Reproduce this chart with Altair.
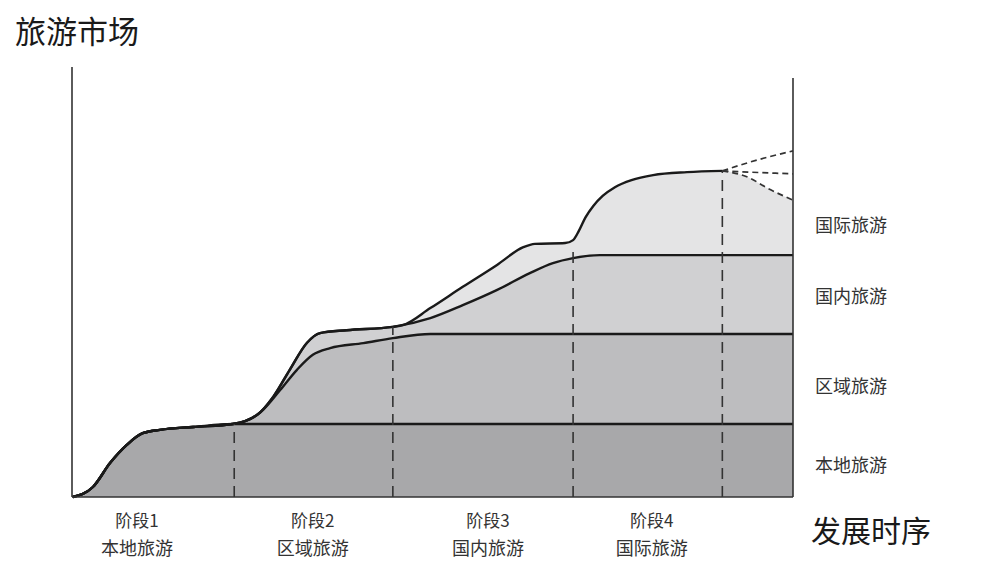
import altair as alt
import pandas as pd

FONT = "Noto Sans CJK SC"

# ---- data (x: development time 0-100, y: tourism market 0-100) ----
local_x = [0.1, 2.9, 5.3, 7.6, 9.8, 12.2, 16.8, 22.3, 100]
local_y = [0.0, 2.4, 8.2, 12.5, 15.3, 16.1, 16.8, 17.5, 17.5]

regional_x = [24.0, 26.5, 28.9, 31.2, 33.4, 35.8, 40.4, 44.5, 49.7, 100]
regional_y = [18.2, 20.9, 25.7, 30.5, 34.1, 35.7, 36.9, 38.1, 39.1, 39.1]

domestic_x = [25.7, 27.9, 30.2, 32.6, 34.4, 38.1, 44.5, 49.7, 54.2, 58.9, 63.5, 66.7, 69.5, 73.2, 100]
domestic_y = [19.7, 24.0, 30.5, 37.0, 39.3, 40.0, 40.8, 42.9, 46.0, 49.6, 53.7, 56.1, 57.3, 58.0, 58.0]

intl_x = [45.9, 49.7, 54.2, 58.9, 62.6, 64.2, 68.4, 69.5, 70.3, 71.2, 72.3, 73.6, 75.3, 77.6, 80.6, 85.3, 90.2]
intl_y = [41.2, 45.3, 50.4, 55.6, 59.9, 60.7, 60.9, 61.6, 63.8, 67.0, 69.8, 72.2, 74.3, 76.0, 77.2, 77.9, 78.2]

fan_top_x = [90.2, 94.0, 100]
fan_top_y = [78.2, 80.3, 83.0]
fan_mid_x = [90.2, 94.0, 100]
fan_mid_y = [78.2, 77.9, 77.5]
fan_low_x = [90.2, 94.0, 96.2, 100]
fan_low_y = [78.2, 76.5, 74.3, 71.2]

stage_x = [22.5, 44.5, 69.5, 90.2]
stage_top = [17.5, 40.8, 59.0, 78.2]

stage_names = ["阶段1", "阶段2", "阶段3", "阶段4"]
stage_markets = ["本地旅游", "区域旅游", "国内旅游", "国际旅游"]
stage_label_x = [9.0, 33.4, 57.7, 80.4]

band_names = ["本地旅游", "区域旅游", "国内旅游", "国际旅游"]
band_label_y = [7.2, 26.1, 47.7, 64.7]

y_title = "旅游市场"
x_title = "发展时序"

# ---- build full paths ----
def upto(xs, ys, xmax):
    return [(a, b) for a, b in zip(xs, ys) if a <= xmax]

p_local = list(zip(local_x, local_y))
prefix1 = upto(local_x, local_y, 22.3)
p_regional = prefix1 + list(zip(regional_x, regional_y))
p_domestic = prefix1 + list(zip(domestic_x, domestic_y))
p_intl = prefix1 + upto(domestic_x, domestic_y, 44.5) + list(zip(intl_x, intl_y))
p_intl_area = p_intl + list(zip(fan_low_x[1:], fan_low_y[1:]))

def df(points):
    return pd.DataFrame(points, columns=["x", "y"])

xs = alt.Scale(domain=[0, 100], nice=False, zero=False)
ys = alt.Scale(domain=[0, 100], nice=False, zero=False)
X = alt.X("x:Q", scale=xs, axis=None)
Y = alt.Y("y:Q", scale=ys, axis=None)

def area(points, color):
    return alt.Chart(df(points)).mark_area(color=color, opacity=1, interpolate="monotone").encode(x=X, y=Y)

def line(points):
    return alt.Chart(df(points)).mark_line(color="#1a1a1a", strokeWidth=2.4, interpolate="monotone").encode(x=X, y=Y)

areas = [
    area(p_intl_area, "#e4e4e5"),
    area(p_domestic, "#d0d0d2"),
    area(p_regional, "#bdbdbf"),
    area(p_local, "#a8a8aa"),
]
lines = [line(p_intl), line(p_domestic), line(p_regional), line(p_local)]

fan_rows = []
for name, fx, fy in [("top", fan_top_x, fan_top_y), ("mid", fan_mid_x, fan_mid_y), ("low", fan_low_x, fan_low_y)]:
    for a, b in zip(fx, fy):
        fan_rows.append({"series": name, "x": a, "y": b})
fan = alt.Chart(pd.DataFrame(fan_rows)).mark_line(
    color="#333333", strokeWidth=1.7, strokeDash=[6, 4], interpolate="monotone"
).encode(x=X, y=Y, detail="series:N")

stages = alt.Chart(pd.DataFrame({"x": stage_x, "y0": [0] * 4, "top": stage_top})).mark_rule(
    color="#333333", strokeWidth=1.6, strokeDash=[11, 7]
).encode(x=X, y=alt.Y("y0:Q", scale=ys, axis=None), y2="top:Q")

frame = alt.Chart(pd.DataFrame({
    "x": [0, 100, 0], "x2": [0, 100, 100],
    "y": [0, 0, 0], "y2": [103.1, 100.5, 0],
})).mark_rule(color="#333333", strokeWidth=1.6).encode(
    x=X, x2="x2:Q", y=Y, y2="y2:Q"
)

band_labels = alt.Chart(pd.DataFrame({"name": band_names, "y": band_label_y})).mark_text(
    align="left", baseline="middle", font=FONT, fontSize=18, color="#333333"
).encode(x=alt.value(743), y=Y, text="name:N")

stage_df = pd.DataFrame({"stage": stage_names, "market": stage_markets, "x": stage_label_x})
stage_l1 = alt.Chart(stage_df).mark_text(
    align="center", baseline="middle", font=FONT, fontSize=17, color="#333333"
).encode(x=X, y=alt.value(442), text="stage:N")
stage_l2 = alt.Chart(stage_df).mark_text(
    align="center", baseline="middle", font=FONT, fontSize=18, color="#333333"
).encode(x=X, y=alt.value(470), text="market:N")

one = pd.DataFrame({"a": [0]})
t_y = alt.Chart(one).mark_text(
    align="center", baseline="middle", font=FONT, fontSize=31, color="#1a1a1a"
).encode(x=alt.value(5), y=alt.value(-46), text=alt.value(y_title))
t_x = alt.Chart(one).mark_text(
    align="center", baseline="middle", font=FONT, fontSize=30, color="#1a1a1a"
).encode(x=alt.value(799), y=alt.value(453), text=alt.value(x_title))

chart = alt.layer(
    *areas, *lines, fan, stages, frame, band_labels, stage_l1, stage_l2, t_y, t_x
).properties(
    width=721, height=417,
    autosize=alt.AutoSizeParams(type="none"),
    padding={"left": 64, "top": 72, "right": 180, "bottom": 66},
).configure_view(stroke=None)

chart.save("out.html", embed_options={"renderer": "svg", "actions": False})
